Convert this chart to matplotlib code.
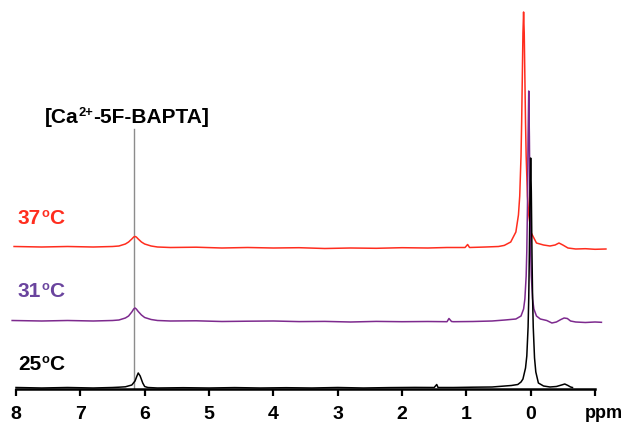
import matplotlib
matplotlib.use("Agg")
import matplotlib.pyplot as plt
import numpy as np

plt.rcParams["font.family"] = "Liberation Sans"

# 25 C trace (ppm, intensity above its baseline)
ppm_25 = [8.0, 7.6, 7.2, 6.8, 6.5, 6.4, 6.3, 6.2, 6.15, 6.12, 6.1, 6.07, 6.03, 6.0, 5.95,
          5.8, 5.4, 5.0, 4.6, 4.2, 3.8, 3.4, 3.0, 2.6, 2.2, 1.8, 1.5, 1.46, 1.44, 1.2,
          0.9, 0.6, 0.4, 0.3, 0.2, 0.15, 0.12, 0.08, 0.06, 0.04, 0.03, 0.02, 0.01, 0.0,
          -0.01, -0.02, -0.03, -0.04, -0.06, -0.08, -0.12, -0.2, -0.3, -0.4, -0.48,
          -0.53, -0.58, -0.62, -0.65]
int_25 = [0.5, 0, 0.5, 0, 0.5, 0.8, 1.2, 3, 7, 12, 15, 12, 5, 1.5, 0.5,
          0, 0.3, 0, 0.4, 0, 0.3, 0, 0.5, 0, 0.4, 0.6, 0.5, 3.5, 0.5, 0.5,
          0.8, 1, 2, 2.5, 3.5, 6, 9, 20, 32, 61, 90, 136, 196, 230,
          196, 136, 90, 61, 30, 16, 5, 2, 1, 1.5, 3,
          4, 2.5, 1, 0.5]

# 31 C trace
ppm_31 = [8.06, 7.6, 7.2, 6.8, 6.5, 6.4, 6.3, 6.25, 6.2, 6.17, 6.15, 6.13, 6.1, 6.05, 6.0,
          5.9, 5.8, 5.6, 5.2, 4.8, 4.4, 4.0, 3.6, 3.2, 2.8, 2.4, 2.0, 1.6, 1.3, 1.27,
          1.23, 1.2, 0.9, 0.6, 0.4, 0.23, 0.15, 0.11, 0.09, 0.07, 0.06, 0.05, 0.04, 0.03,
          0.02, 0.01, 0.0, -0.01, -0.03, -0.05, -0.09, -0.15, -0.25, -0.33, -0.4, -0.47,
          -0.52, -0.57, -0.62, -0.7, -0.85, -1.0, -1.1]
int_31 = [1.5, 1, 1.5, 1, 1.5, 2, 4, 6, 10, 13, 14, 13, 10.5, 7, 4.5,
          2.5, 1.5, 1, 1.2, 0.5, 0.8, 1, 0.4, 0.6, 0, 0.6, 0.3, 0.5, 0.3, 3.5,
          0.5, 0.3, 0.5, 1, 2, 3, 6, 13, 23, 46, 71, 115, 185, 231,
          185, 115, 71, 46, 23, 13, 6, 3, 1.5, -1, 0, 2.5,
          4, 3.5, 1, 0, -0.5, 0, -0.3]

# 37 C trace
ppm_37 = [8.03, 7.6, 7.2, 6.8, 6.5, 6.4, 6.3, 6.25, 6.2, 6.17, 6.15, 6.13, 6.1, 6.05, 6.0,
          5.9, 5.8, 5.6, 5.2, 4.8, 4.4, 4.0, 3.6, 3.2, 2.8, 2.4, 2.0, 1.6, 1.3, 1.02,
          0.98, 0.95, 0.7, 0.5, 0.41, 0.31, 0.23, 0.19, 0.17, 0.15, 0.14, 0.13, 0.12,
          0.11, 0.10, 0.09, 0.08, 0.07, 0.05, 0.03, -0.01, -0.09, -0.2, -0.3, -0.38,
          -0.44, -0.5, -0.58, -0.7, -0.85, -1.0, -1.17]
int_37 = [2.5, 2, 2.5, 2, 2.5, 3, 5, 7, 10, 12, 12.5, 12, 10, 7, 5,
          3, 2, 1.5, 1.8, 1, 1.5, 1, 1.3, 0.5, 1, 0.7, 1.3, 1, 1.5, 1.5,
          4.5, 1.5, 2, 2.5, 3.6, 7, 17, 34, 53, 93, 127, 171, 216,
          237, 216, 171, 127, 93, 53, 34, 16, 6, 4, 3, 4,
          6, 4, 1, 0, 0.3, -0.3, 0]

temp_values = ["25", "31", "37"]
ticks = [8, 7, 6, 5, 4, 3, 2, 1, 0, -1]
tick_labels = ["8", "7", "6", "5", "4", "3", "2", "1", "0", ""]
marker_ppm = 6.16

fig = plt.figure(figsize=(6.23, 4.25), dpi=100)
ax = fig.add_axes([16 / 623, 36 / 425, 579 / 623, 389 / 425])

offsets = [1, 67, 140]
line_colors = ["black", "#7d2a8e", "#ff2d1e"]
label_colors = ["black", "#6a449e", "#ff2d1e"]
series = [(ppm_25, int_25), (ppm_31, int_31), (ppm_37, int_37)]

for i in [2, 1, 0]:
    x, y = series[i]
    ax.plot(x, np.array(y) + offsets[i], color=line_colors[i], lw=1.1, clip_on=False,
            solid_joinstyle="round")


def sup_text(x, y, main, sup, rest, size, color):
    # main text + small raised text + rest, chained left to right
    t1 = fig.text(x, y, main, fontsize=size, fontweight="bold", color=color,
                  ha="left", va="baseline")
    t2 = ax.annotate(sup, xy=(1, 1.03), xycoords=t1, fontsize=size * 0.62,
                     fontweight="bold", color=color, ha="left", va="top",
                     annotation_clip=False)
    ax.annotate(rest, xy=(1, 0), xycoords=(t2, t1), fontsize=size,
                fontweight="bold", color=color, ha="left", va="bottom",
                annotation_clip=False)
    return t1


ax.plot([marker_ppm, marker_ppm], [0, 260], color="#8c8c8c", lw=1.0, zorder=0)
sup_text(45 / 623, 1 - 123 / 425, "[Ca", "2+", "-5F-BAPTA]", 15, "black")

label_y = [370, 297, 224]
for i in range(3):
    sup_text(18 / 623, 1 - label_y[i] / 425, temp_values[i], "o", "C", 15,
             label_colors[i])

ax.set_xlim(8, -1)
ax.set_ylim(0, 389)
for s in ["top", "left", "right"]:
    ax.spines[s].set_visible(False)
ax.spines["bottom"].set_linewidth(1.8)
ax.set_yticks([])
ax.set_xticks(ticks)
ax.set_xticklabels(tick_labels)
ax.tick_params(axis="x", direction="out", length=5, width=1.6, pad=7, labelsize=14)
for lab in ax.get_xticklabels():
    lab.set_fontweight("bold")
fig.text(604 / 623, 1 - 413 / 425, "ppm", fontsize=13, fontweight="bold",
         ha="center", va="center")

fig.savefig("out.png", dpi=100)
